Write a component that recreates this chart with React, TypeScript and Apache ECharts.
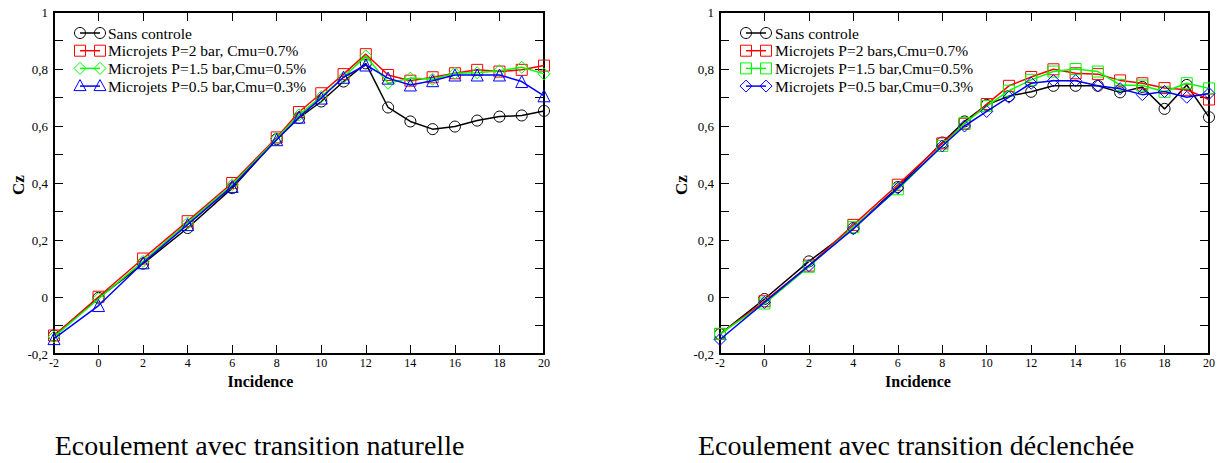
import React, { useEffect, useRef } from "react";
import * as echarts from "echarts";

const incidence = [-2, 0, 2, 4, 6, 8, 9, 10, 11, 12, 13, 14, 15, 16, 17, 18, 19, 20];

// Left chart: natural transition
const leftSans = [-0.135, -0.003, 0.117, 0.242, 0.382, 0.554, 0.628, 0.686, 0.756, 0.82, 0.665, 0.616, 0.589, 0.598, 0.619, 0.633, 0.637, 0.653];
const leftP2 = [-0.135, 0.001, 0.135, 0.266, 0.4, 0.56, 0.649, 0.715, 0.782, 0.852, 0.779, 0.759, 0.771, 0.785, 0.797, 0.791, 0.797, 0.812];
const leftP15 = [-0.14, -0.006, 0.125, 0.26, 0.394, 0.556, 0.639, 0.703, 0.771, 0.846, 0.75, 0.768, 0.764, 0.785, 0.787, 0.794, 0.806, 0.783];
const leftP05 = [-0.146, -0.03, 0.12, 0.254, 0.388, 0.552, 0.631, 0.698, 0.771, 0.814, 0.768, 0.744, 0.759, 0.779, 0.779, 0.779, 0.756, 0.706];

// Right chart: triggered transition
const rightSans = [-0.13, -0.007, 0.125, 0.242, 0.386, 0.542, 0.616, 0.674, 0.705, 0.72, 0.741, 0.741, 0.741, 0.718, 0.737, 0.66, 0.744, 0.631];
const rightP2 = [-0.13, -0.015, 0.11, 0.253, 0.394, 0.539, 0.608, 0.677, 0.741, 0.772, 0.799, 0.785, 0.782, 0.76, 0.75, 0.733, 0.727, 0.693];
const rightP15 = [-0.129, -0.023, 0.106, 0.245, 0.378, 0.53, 0.61, 0.67, 0.724, 0.762, 0.791, 0.8, 0.791, 0.744, 0.742, 0.72, 0.75, 0.732];
const rightP05 = [-0.149, -0.019, 0.11, 0.239, 0.382, 0.53, 0.6, 0.651, 0.701, 0.75, 0.759, 0.759, 0.741, 0.731, 0.71, 0.721, 0.701, 0.714];

const leftNames = ["Sans controle", "Microjets P=2 bar, Cmu=0.7%", "Microjets P=1.5 bar,Cmu=0.5%", "Microjets P=0.5 bar,Cmu=0.3%"];
const rightNames = ["Sans controle", "Microjets P=2 bars,Cmu=0.7%", "Microjets P=1.5 bar,Cmu=0.5%", "Microjets P=0.5 bar,Cmu=0.3%"];
const leftSymbols = ["circle", "rect", "diamond", "triangle"];
const rightSymbols = ["circle", "rect", "rect", "diamond"];
const colors = ["#000000", "#ff0000", "#00ff00", "#0000ff"];

const xAxisName = "Incidence";
const yAxisName = "Cz";
const leftTitle = "Ecoulement avec transition naturelle";
const rightTitle = "Ecoulement avec transition déclenchée";

const SERIF = "Liberation Serif";

function legendSymbol(kind: string, cx: number, cy: number, color: string) {
  const style = { fill: "none", stroke: color, lineWidth: 1 };
  if (kind === "circle") return { type: "circle", shape: { cx, cy, r: 5.5 }, style };
  if (kind === "rect") return { type: "rect", shape: { x: cx - 5.5, y: cy - 5.5, width: 11, height: 11 }, style };
  if (kind === "diamond")
    return { type: "polygon", shape: { points: [[cx, cy - 6], [cx + 6, cy], [cx, cy + 6], [cx - 6, cy]] }, style };
  return { type: "polygon", shape: { points: [[cx, cy - 6.5], [cx + 6, cy + 4.5], [cx - 6, cy + 4.5]] }, style };
}

function txt(text: string, x: number, y: number, size: number, bold: boolean, align: string, rotation = 0) {
  return {
    type: "text",
    x,
    y,
    rotation,
    style: {
      text,
      fontFamily: SERIF,
      fontSize: size,
      fontWeight: bold ? "bold" : "normal",
      fill: "#000",
      align,
      verticalAlign: "middle",
    },
  };
}

function buildLegend(names: string[], symbols: string[], x0: number, x1: number, tx: number) {
  const els: any[] = [];
  names.forEach((n, i) => {
    const y = 33 + i * 17.7;
    els.push({ type: "line", shape: { x1: x0, y1: y, x2: x1, y2: y }, style: { stroke: colors[i], lineWidth: 1.5 } });
    els.push(legendSymbol(symbols[i], x0, y, colors[i]));
    els.push(legendSymbol(symbols[i], x1, y, colors[i]));
    els.push(txt(n, tx, y, 15.5, false, "left"));
  });
  return els;
}

export default function App() {
  const ref = useRef<HTMLDivElement>(null);
  useEffect(() => {
    if (!ref.current) return;
    const chart = echarts.init(ref.current, undefined, { renderer: "svg" });

    const axisLine = { onZero: false, lineStyle: { color: "#000", width: 2 } };
    const axisTick = { inside: true, length: 9, lineStyle: { color: "#000", width: 1 } };
    const yFmt = (v: number) => {
      const k = Math.round(v * 10);
      if (k % 2 !== 0) return "";
      return String(k / 10).replace(".", ",");
    };

    const xAxes: any[] = [];
    const yAxes: any[] = [];
    [0, 1].forEach((g) => {
      xAxes.push({
        gridIndex: g, type: "value", min: -2, max: 20, interval: 2, position: "bottom",
        axisLine, axisTick,
        axisLabel: { color: "#000", fontFamily: SERIF, fontSize: 12, margin: 3 },
        splitLine: { show: false },
      });
      xAxes.push({
        gridIndex: g, type: "value", min: -2, max: 20, interval: 2, position: "top",
        axisLine, axisTick, axisLabel: { show: false }, splitLine: { show: false },
      });
      yAxes.push({
        gridIndex: g, type: "value", min: -0.2, max: 1, interval: 0.1, position: "left",
        axisLine, axisTick,
        axisLabel: { color: "#000", fontFamily: SERIF, fontSize: 13, margin: 6, formatter: yFmt },
        splitLine: { show: false },
      });
      yAxes.push({
        gridIndex: g, type: "value", min: -0.2, max: 1, interval: 0.1, position: "right",
        axisLine, axisTick, axisLabel: { show: false }, splitLine: { show: false },
      });
    });

    const mk = (name: string, vals: number[], sym: string, color: string, g: number, z: number) => ({
      type: "line",
      name,
      xAxisIndex: g * 2,
      yAxisIndex: g * 2,
      data: incidence.map((x, i) => [x, vals[i]]),
      symbol: sym,
      symbolSize: sym === "triangle" ? 12 : sym === "diamond" ? 12 : 11,
      showAllSymbol: true,
      z,
      itemStyle: { color: "transparent", borderColor: color, borderWidth: 1 },
      lineStyle: { color, width: 1.5 },
      emphasis: { disabled: true },
    });

    const leftData = [leftSans, leftP2, leftP15, leftP05];
    const rightData = [rightSans, rightP2, rightP15, rightP05];
    const series: any[] = [];
    leftData.forEach((d, i) => series.push(mk(leftNames[i], d, leftSymbols[i], colors[i], 0, 2 + i)));
    rightData.forEach((d, i) => series.push(mk(rightNames[i], d, rightSymbols[i], colors[i], 1, 2 + i)));

    const graphic: any[] = [
      ...buildLegend(leftNames, leftSymbols, 80, 100, 108),
      ...buildLegend(rightNames, rightSymbols, 746, 766, 775),
      txt(xAxisName, 260.5, 381, 16, true, "center"),
      txt(xAxisName, 918, 381, 16, true, "center"),
      txt(yAxisName, 18, 185, 17, true, "center", Math.PI / 2),
      txt(yAxisName, 681.5, 185, 17, true, "center", Math.PI / 2),
      txt(leftTitle, 259.5, 445, 28, false, "center"),
      txt(rightTitle, 916, 445, 28, false, "center"),
    ];

    chart.setOption({
      animation: false,
      backgroundColor: "#fff",
      grid: [
        { left: 54, top: 12, width: 490, height: 342 },
        { left: 720, top: 12, width: 489, height: 342 },
      ],
      xAxis: xAxes,
      yAxis: yAxes,
      series,
      graphic,
    });
    return () => chart.dispose();
  }, []);
  return <div ref={ref} style={{ position: "absolute", left: 0, top: 0, width: 1226, height: 463 }} />;
}
